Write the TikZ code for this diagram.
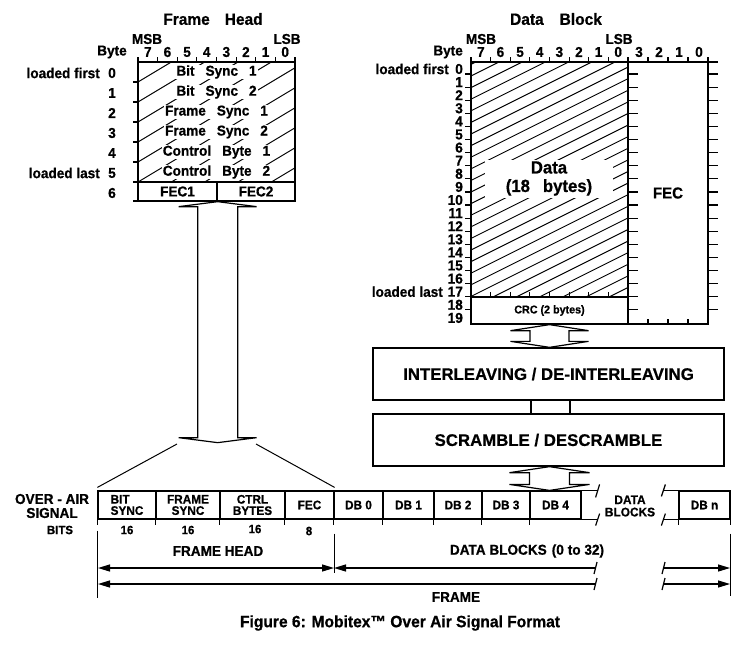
\documentclass[tikz,border=0pt]{standalone}
\usepackage{fontspec}
\setmainfont{Liberation Sans}[FakeStretch=0.95, BoldFeatures={FakeBold=0.7}]
\newfontfamily\plainsans{Liberation Sans}[BoldFeatures={FakeBold=0.6}]
\usetikzlibrary{arrows.meta,calc}
\newcommand\myfs[2][]{\fontsize{#2}{#2}\selectfont\bfseries}
\newcommand\myfsb[2]{\fontsize{#1}{#2}\selectfont\bfseries}
\newcommand\wg{\hspace{11pt}}
\newcommand\hollowdbl[5]{%
 \draw[line width=1.2pt, line join=miter] (#1) -- ($(#1)+(#3,#5)$) -- ($(#1)+(#4,#5)$) -- ($(#2)+(#4,-#5)$) -- ($(#2)+(#3,-#5)$) -- (#2) -- ($(#2)+(-#3,-#5)$) -- ($(#2)+(-#4,-#5)$) -- ($(#1)+(-#4,#5)$) -- ($(#1)+(-#3,#5)$) -- cycle;}
\begin{document}
\begin{tikzpicture}[x=1pt,y=-1pt,
  box/.style={draw, line width=1.3pt, inner sep=0pt},
  lbl/.style={font=\myfs{14.3}, inner sep=0pt},
  ttl/.style={font=\myfs{16.3}, inner sep=0pt},
  rowtxt/.style={fill=white, inner xsep=1pt, inner ysep=0.6pt, font=\myfs{14.3}},
  hatch/.style={line width=0.95pt},
  tick/.style={line width=1.2pt},
  cell/.style={draw, line width=1.2pt, minimum height=28pt, inner sep=0pt, align=center, font=\myfsb{12.4}{11.3}},
  small/.style={font=\myfs{12}, inner sep=0pt},
  arr/.style={line width=1.2pt, >={Triangle[length=12pt,width=7pt]}},
  bigbox/.style={draw, line width=1.3pt, minimum width=351pt, minimum height=52pt, inner sep=0pt, font=\plainsans\myfs{16.8}}
]
\useasboundingbox (0,0) rectangle (749,645);

% ---------- titles ----------
\node[ttl] (fhtitle) at (213,19) {Frame\hspace{15pt}Head};
\node[ttl] (dbtitle) at (556,19) {Data\hspace{16pt}Block};

% ---------- frame head ----------
\begin{scope}
  \clip (138,62) rectangle (295,182);
  \foreach \k in {-1,...,10} \draw[hatch] (138,{82+20*\k}) -- ++(200,-120);
\end{scope}
\node[box, minimum width=157pt, minimum height=120pt] (fhh) at (216.5,122) {};
\node[box, minimum width=79pt, minimum height=19pt, font=\myfs{14.3}] (fec1) at (177.5,191.5) {FEC1};
\node[box, minimum width=78pt, minimum height=19pt, font=\myfs{14.3}] (fec2) at (256,191.5) {FEC2};
\node[rowtxt] (r0) at (216.5,72) {Bit\wg Sync\wg 1};
\node[rowtxt] (r1) at (216.5,92) {Bit\wg Sync\wg 2};
\node[rowtxt] (r2) at (216.5,112) {Frame\wg Sync\wg 1};
\node[rowtxt] (r3) at (216.5,132) {Frame\wg Sync\wg 2};
\node[rowtxt] (r4) at (216.5,152) {Control\wg Byte\wg 1};
\node[rowtxt] (r5) at (216.5,172) {Control\wg Byte\wg 2};
\foreach \k in {0,...,8} \draw[tick] ({138+19.625*\k},62) -- ++(0,-5);
\foreach \y in {82,102,122,142,162,182,201} \draw[tick] (133,\y) -- (138,\y);
\foreach \b [count=\i from 0] in {7,6,5,4,3,2,1,0}
  \node[lbl] (fhbit\b) at ({138+19.625*(\i+0.5)},52) {\b};
\node[lbl] (fhmsb) at (147,39) {MSB};
\node[lbl] (fhlsb) at (287,39) {LSB};
\node[lbl] (fhbyte) at (112,52) {Byte};
\foreach \k in {0,...,6} \node[lbl] (fhn\k) at (112,{73+20*\k}) {\k};
\node[lbl, anchor=east] (fhfirst) at (100,73) {loaded first};
\node[lbl, anchor=east] (fhlast) at (100,173) {loaded last};

% ---------- data block ----------
\begin{scope}
  \clip (471,62) rectangle (628,297);
  \foreach \k in {-2,...,27} \draw[hatch] (471,{76+11.6*\k}) -- ++(240,-120);
\end{scope}
\node[box, minimum width=157pt, minimum height=235pt] (dat) at (549.5,179.5) {};
\node[box, minimum width=157pt, minimum height=27pt, font=\myfs{11.3}] (crc) at (549.5,310.5) {CRC (2 bytes)};
\node[box, minimum width=80pt, minimum height=262pt, font=\myfs{15.8}] (fecb) at (668,193) {FEC};
\node[fill=white, minimum width=128pt, minimum height=38pt, inner sep=0pt, align=center, font=\myfsb{17.6}{18.5}] (dtxt) at (549,178.5) {Data\\(18\hspace{13pt}bytes)};
\foreach \k in {0,...,18} {
  \draw[tick] (465,{74+13.1*\k}) -- (471,{74+13.1*\k});
  \draw[tick] (628,{74+13.1*\k}) -- (638,{74+13.1*\k});
  \draw[tick] (708,{74+13.1*\k}) -- (718,{74+13.1*\k});
}
\draw[box] (708,62) -- (718,62);
\foreach \k in {0,...,8} \draw[tick] ({471+19.625*\k},62) -- ++(0,-5);
\foreach \x in {648,668,688,708} \draw[tick] (\x,62) -- ++(0,-5);
\foreach \k in {1,...,7} \draw[tick] ({471+19.625*\k},297) -- ++(0,-5);
\foreach \x in {648,668,688} \draw[tick] (\x,324) -- ++(0,-5);
\foreach \b [count=\i from 0] in {7,6,5,4,3,2,1,0}
  \node[lbl] (dbbit\b) at ({471+19.625*(\i+0.5)},52) {\b};
\foreach \b [count=\i from 0] in {3,2,1,0}
  \node[lbl] (fecbit\b) at ({639+20*\i},52) {\b};
\node[lbl] (dbmsb) at (481,39) {MSB};
\node[lbl] (dblsb) at (619,39) {LSB};
\node[lbl, anchor=east] (dbbyte) at (463,52) {Byte};
\foreach \k in {0,...,19} \node[lbl, anchor=east] (dbn\k) at (463,{69+13.1*\k}) {\k};
\node[lbl, anchor=east] (dbfirst) at (449,69) {loaded first};
\node[lbl, anchor=east] (dblast) at (443,291.7) {loaded last};

% ---------- processing boxes ----------
\node[bigbox] (il) at (548.5,374) {INTERLEAVING / DE-INTERLEAVING};
\node[bigbox] (sc) at (548.5,440) {SCRAMBLE / DESCRAMBLE};
\draw[line width=1.2pt] ($(il.south)+(-17.5,0)$) -- ($(sc.north)+(-17.5,0)$);
\draw[line width=1.2pt] ($(il.south)+(21.5,0)$) -- ($(sc.north)+(21.5,0)$);

% ---------- over-air row ----------
\node[cell, minimum width=58pt, align=left] (c1) at (127,505) {BIT\\SYNC};
\node[cell, minimum width=64pt] (c2) at (188,505) {FRAME\\SYNC};
\node[cell, minimum width=65pt] (c3) at (252.5,505) {CTRL\\BYTES};
\node[cell, minimum width=49pt] (c4) at (309.5,505) {FEC};
\node[cell, minimum width=49pt] (d0) at (358.5,505) {DB 0};
\node[cell, minimum width=51pt] (d1) at (408.5,505) {DB 1};
\node[cell, minimum width=48pt] (d2) at (458,505) {DB 2};
\node[cell, minimum width=48pt] (d3) at (506,505) {DB 3};
\node[cell, minimum width=51pt] (d4) at (555.5,505) {DB 4};
\node[cell, minimum width=51pt] (dn) at (704.5,505) {DB n};
\node[small, align=center, font=\myfsb{12.5}{12.3}] (dbks) at (630,506) {DATA\\BLOCKS};
% continuation lines and breaks
\draw[line width=1.2pt] (d4.north east) -- ++(16,0);
\draw[line width=1.2pt] (d4.south east) -- ++(16,0);
\draw[tick] ($(d4.north east)+(14,7)$) -- ++(4,-13);
\draw[tick] ($(d4.south east)+(14,6)$) -- ++(4,-12);
\draw[line width=1.2pt] (dn.north west) -- ++(-15,0);
\draw[line width=1.2pt] (dn.south west) -- ++(-15,0);
\draw[tick] ($(dn.north west)+(-17,6)$) -- ++(4,-12);
\draw[tick] ($(dn.south west)+(-17,6)$) -- ++(4,-12);
\foreach \n in {c1,c2,c3,c4,d0,d1,d2,d3,d4,dn} \draw[tick] (\n.south west) -- ++(0,5);
\draw[tick] (dn.south east) -- ++(0,5);

% hollow double arrows
\coordinate (fhA) at (fec1.south east);
\coordinate (fhB) at ($(fec1.south east)+(0,241)$);
\hollowdbl{fhA}{fhB}{39}{20}{5}
\coordinate (dbA) at (crc.south);
\coordinate (dbB) at (il.north -| crc.south);
\hollowdbl{dbA}{dbB}{39}{19.5}{6}
\coordinate (scA) at (sc.south -| crc.south);
\coordinate (scB) at (d4.north -| crc.south);
\hollowdbl{scA}{scB}{40}{20}{6}
% zoom lines
\coordinate (zl) at (177,444);
\coordinate (zr) at (256,444);
\draw[line width=1pt] (zl) -- ($(c1.north west)+(0,-3)$);
\draw[line width=1pt] (zr) -- ($(c4.north east)+(0,-3)$);

% labels of the row
\node[lbl] (oa1) at (52,499) {OVER - AIR};
\node[lbl] (oa2) at (52,513) {SIGNAL};
\node[small] (bits) at (60,530) {BITS};
\node[small] (b1) at (127,530) {16};
\node[small] (b2) at (188,530) {16};
\node[small] (b3) at (255,529) {16};
\node[small] (b4) at (309,531) {8};
\node[lbl] (fhlab) at (218,551) {FRAME HEAD};
\node[lbl] (dblab) at (527,551) {DATA BLOCKS\hspace{5pt}(0\hspace{4pt}to 32)};
\node[lbl] (frlab) at (456,597) {FRAME};

% dimension lines
\coordinate (L1) at ($(c1.south west)+(0,11)$);
\coordinate (L2) at ($(c1.south west)+(0,78)$);
\coordinate (M1) at ($(c4.south east)+(0,14)$);
\coordinate (M2) at ($(c4.south east)+(0,53)$);
\coordinate (R1) at ($(dn.south east)+(0,14)$);
\coordinate (R2) at ($(dn.south east)+(0,76)$);
\draw[line width=1.2pt] (L1) -- (L2);
\draw[line width=1.2pt] (M1) -- (M2);
\draw[line width=1.2pt] (R1) -- (R2);
\coordinate (a1l) at (98,568);
\coordinate (a1r) at (334,568);
\coordinate (a2r) at (596,568);
\coordinate (a3l) at (664,568);
\coordinate (a3r) at (730,568);
\coordinate (f1l) at (98,584);
\coordinate (f1r) at (596,584);
\coordinate (f2l) at (664,584);
\coordinate (f2r) at (730,584);
\draw[arr,<->] (a1l) -- (a1r);
\draw[arr,<-] (a1r) -- (a2r);
\draw[arr,->] (a3l) -- (a3r);
\draw[arr,<-] (f1l) -- (f1r);
\draw[arr,->] (f2l) -- (f2r);
\foreach \c in {a2r,f1r} \draw[tick] ($(\c)+(-2,6)$) -- ++(3,-12);
\foreach \c in {a3l,f2l} \draw[tick] ($(\c)+(-2,6)$) -- ++(3,-12);

% caption
\node[font=\myfs{16.4}, inner sep=0pt] (cap) at (400,623) {Figure 6: Mobitex™ Over Air Signal Format};
\end{tikzpicture}
\end{document}
